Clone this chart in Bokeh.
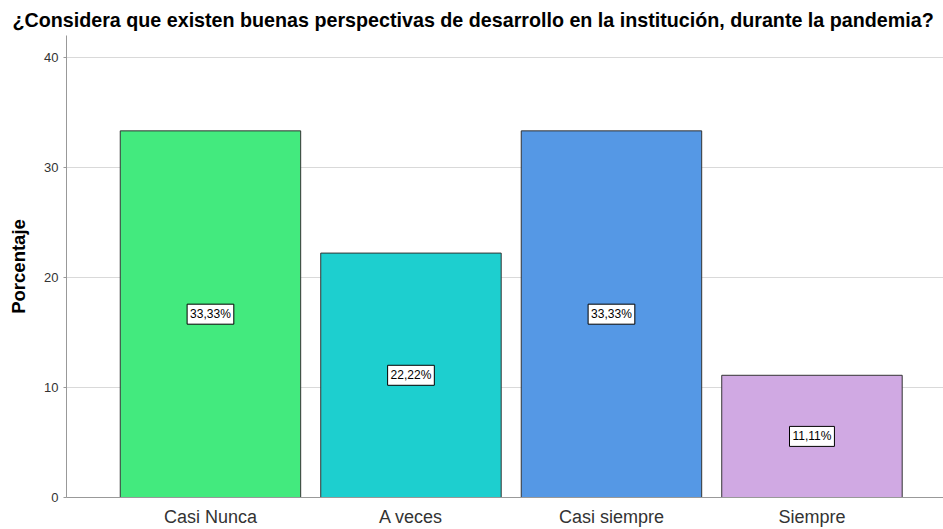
from bokeh.plotting import figure
from bokeh.models import ColumnDataSource, Label, FixedTicker, Range1d
from bokeh.embed import file_html
from bokeh.resources import INLINE

categories = ["Casi Nunca", "A veces", "Casi siempre", "Siempre"]
values = [33.33, 22.22, 33.33, 11.11]
colors = ["#43EA7E", "#1DCFCF", "#5598E5", "#D0A9E3"]
labels = ["33,33%", "22,22%", "33,33%", "11,11%"]

xs = list(range(1, len(categories) + 1))
src = ColumnDataSource(dict(x=xs, top=values, color=colors))

p = figure(width=943, height=529, output_backend="svg", toolbar_location=None,
           x_range=Range1d(0.282, 4.656), y_range=Range1d(0, 42),
           min_border_left=66, min_border_top=35, min_border_right=0,
           min_border_bottom=31)

p.title.text = "¿Considera que existen buenas perspectivas de desarrollo en la institución, durante la pandemia?"
p.title.text_font = "Liberation Sans"
p.title.text_font_size = "19.7px"
p.title.text_font_style = "bold"
p.title.text_color = "#000000"
p.title.align = "left"
p.title.offset = -54
p.title.standoff = 10

p.vbar(x="x", top="top", width=0.9, bottom=0, source=src, fill_color="color",
       line_color="#333333", line_width=1)

for x, v, t in zip(xs, values, labels):
    p.add_layout(Label(x=x, y=v / 2, text=t, text_align="center",
                       text_baseline="middle", text_font="Liberation Sans",
                       text_font_size="12px", text_color="#000000",
                       background_fill_color="white", border_line_color="#000000",
                       border_line_width=1, padding=3))

p.outline_line_color = None
p.xgrid.grid_line_color = None
p.ygrid.grid_line_color = "#D9D9D9"
p.ygrid.ticker = FixedTicker(ticks=[10, 20, 30, 40])

p.yaxis.ticker = FixedTicker(ticks=[0, 10, 20, 30, 40])
p.yaxis.axis_label = "Porcentaje"
p.yaxis.axis_label_text_font = "Liberation Sans"
p.yaxis.axis_label_text_font_size = "18.5px"
p.yaxis.axis_label_text_font_style = "bold"
p.yaxis.axis_label_text_color = "#000000"
p.yaxis.axis_label_standoff = 12
p.yaxis.major_label_text_font = "Liberation Sans"
p.yaxis.major_label_text_font_size = "13px"
p.yaxis.major_label_text_color = "#333333"
p.yaxis.axis_line_color = "#999999"
p.yaxis.major_tick_line_color = "#999999"
p.yaxis.major_tick_out = 3
p.yaxis.major_tick_in = 0
p.yaxis.minor_tick_line_color = None
p.yaxis.major_label_standoff = 5

p.xaxis.ticker = FixedTicker(ticks=xs)
p.xaxis.major_label_overrides = {x: c for x, c in zip(xs, categories)}
p.xaxis.major_label_text_font = "Liberation Sans"
p.xaxis.major_label_text_font_size = "18px"
p.xaxis.major_label_text_color = "#333333"
p.xaxis.axis_line_color = "#999999"
p.xaxis.major_tick_line_color = None
p.xaxis.minor_tick_line_color = None
p.xaxis.major_tick_out = 0
p.xaxis.major_label_standoff = 9

open("out.html", "w").write(file_html(p, INLINE))
